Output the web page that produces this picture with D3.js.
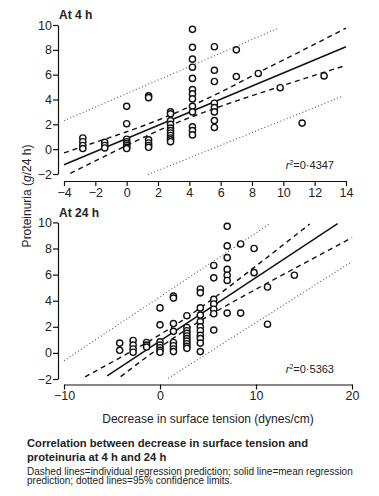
<!DOCTYPE html>
<html>
<head>
<meta charset="utf-8">
<script src="https://cdn.jsdelivr.net/npm/d3@7"></script>
<style>
  body { margin: 0; background: #fff; }
  text { font-family: "Liberation Sans", Arial, sans-serif; fill: #222; }
</style>
</head>
<body>
<div class="chart"></div>
<script>
// data
var xTicks4 = [-4, -2, 0, 2, 4, 6, 8, 10, 12, 14];
var xTicks24 = [-10, 0, 10, 20];
var yTicks = [-2, 0, 2, 4, 6, 8, 10];

// 4 h: x positions and the proteinuria values stacked at each
var x4 = [-2.8, -1.4, 0, 1.4, 2.8, 4.2, 5.6, 7, 8.4, 9.8, 11.2, 12.6];
var y4 = [
  [0.9, 0.6, 0.3, 0.05],
  [0.55, 0.3, 0.1],
  [3.45, 2.05, 0.8, 0.6, 0.45, 0.3, 0.15, 0.05],
  [4.3, 4.15, 0.75, 0.5, 0.3, 0.15],
  [3.0, 2.85, 2.3, 2.0, 1.7, 1.5, 1.3, 1.1, 0.9, 0.75, 0.6],
  [9.65, 8.2, 7.25, 6.6, 5.7, 4.8, 4.45, 4.05, 3.45, 3.0, 1.8, 1.5, 1.15],
  [8.25, 6.35, 5.45, 3.7, 3.35, 3.0, 2.3, 1.75],
  [8.0, 5.85],
  [6.1],
  [4.95],
  [2.1],
  [5.9]
];
var mean4 = [[-4, -1.25], [14, 8.25]];
var upper4 = [[-4, -0.3], [-2, 0.55], [0, 1.4], [2.8, 2.75], [6, 4.6], [9, 6.55], [12, 8.45], [14, 9.75]];
var lower4 = [[-3.6, -1.95], [-2, -0.95], [0, 0.3], [2.8, 1.92], [6, 3.45], [9, 4.72], [12, 5.95], [14, 6.75]];
var upperDot4 = [[-4, 2.3], [9.7, 9.75]];
var lowerDot4 = [[1.35, -2.05], [13.75, 4.25]];

// 24 h
var x24 = [-4.2, -2.8, -1.4, 0, 1.4, 2.8, 4.2, 5.6, 7, 8.4, 9.8, 11.2, 14];
var y24 = [
  [0.75, 0.2],
  [0.95, 0.6, 0.3, 0.05],
  [0.8, 0.6, 0.45],
  [3.45, 2.15, 0.85, 0.6, 0.4, 0.2, 0.05],
  [4.35, 4.2, 2.25, 1.65, 0.8, 0.55, 0.3, 0.1],
  [2.85, 1.95, 1.7, 1.5, 1.3, 1.1, 0.9, 0.7, 0.5, 0.35],
  [4.9, 4.6, 3.45, 2.9, 2.4, 2.0, 1.7, 1.35, 1.1, 0.75, 0.1],
  [6.7, 5.75, 4.1, 3.75, 3.35, 3.0, 1.75],
  [9.7, 8.2, 7.3, 6.4, 5.95, 5.55, 3.05],
  [8.35, 3.05],
  [8.0, 6.15],
  [5.05, 2.2],
  [5.95]
];
var mean24 = [[-5.5, -1.76], [18.5, 9.9]];
var upper24 = [[-7.8, -1.83], [-4, -0.3], [0, 1.4], [2, 2.33], [5, 3.87], [10, 6.66], [15.6, 9.88]];
var lower24 = [[-4.1, -1.82], [0, 0.42], [2, 1.43], [5, 2.81], [10, 4.88], [15, 6.86], [20, 8.83]];
var upperDot24 = [[-10, -0.6], [11.5, 9.93]];
var lowerDot24 = [[0.85, -1.95], [20, 7.0]];

var svgWidth = 379;
var svgHeight = 496;

var svg = d3.select(".chart")
  .append("svg")
  .attr("width", svgWidth)
  .attr("height", svgHeight);

svg.append("rect").attr("width", svgWidth).attr("height", svgHeight).attr("fill", "#fff");

function drawPanel(p) {
  var x = d3.scaleLinear().domain(p.xDomain).range(p.xRange);
  var y = d3.scaleLinear().domain([-2, 10]).range(p.yRange);
  var g = svg.append("g");

  // axes, detached from each other like the original
  g.append("g")
    .attr("transform", `translate(58,0)`)
    .call(d3.axisLeft(y).tickValues(yTicks).tickSize(5).tickSizeOuter(0).tickPadding(1))
    .call(a => a.selectAll("text").style("font-size", "12.5px").attr("fill", "#222"));

  g.append("g")
    .attr("transform", `translate(0,${p.xAxisY})`)
    .call(d3.axisBottom(x).tickValues(p.xTicks).tickSize(5).tickSizeOuter(0).tickPadding(2))
    .call(a => a.selectAll("text").style("font-size", "12.5px").attr("fill", "#222"));

  g.selectAll(".domain, .tick line").attr("stroke", "#111").attr("stroke-width", 1.2);

  var line = d3.line().x(d => x(d[0])).y(d => y(d[1])).curve(d3.curveMonotoneX);

  [p.upperDot, p.lowerDot].forEach(function(d) {
    g.append("path").attr("d", line(d)).attr("fill", "none")
      .attr("stroke", "#555").attr("stroke-width", 1.1).attr("stroke-dasharray", "1,2.4");
  });
  [p.upper, p.lower].forEach(function(d) {
    g.append("path").attr("d", line(d)).attr("fill", "none")
      .attr("stroke", "#111").attr("stroke-width", 1.4).attr("stroke-dasharray", "5,4");
  });
  g.append("path").attr("d", line(p.mean)).attr("fill", "none")
    .attr("stroke", "#111").attr("stroke-width", 1.5);

  var pts = [];
  p.xs.forEach(function(xv, i) {
    p.ys[i].forEach(function(yv) { pts.push({x: xv, y: yv}); });
  });
  g.selectAll("circle")
    .data(pts)
    .enter()
    .append("circle")
    .attr("cx", d => x(d.x))
    .attr("cy", d => y(d.y))
    .attr("r", 3.1)
    .attr("fill", "#fff")
    .attr("stroke", "#111")
    .attr("stroke-width", 1.4);

  g.append("text")
    .attr("x", 59).attr("y", p.titleY)
    .style("font-weight", "bold").style("font-size", "12px")
    .text(p.title);

  var r2 = g.append("text")
    .attr("x", 334).attr("y", p.r2Y)
    .attr("text-anchor", "end")
    .style("font-size", "11px");
  r2.append("tspan").style("font-style", "italic").text("r");
  r2.append("tspan").attr("dy", -4).style("font-size", "7px").text("2");
  r2.append("tspan").attr("dy", 4).text("=" + p.r2);
}

drawPanel({
  xDomain: [-4, 14], xRange: [64, 346], yRange: [174, 25], xAxisY: 181,
  xTicks: xTicks4, xs: x4, ys: y4,
  mean: mean4, upper: upper4, lower: lower4, upperDot: upperDot4, lowerDot: lowerDot4,
  title: "At 4 h", titleY: 19, r2: "0·4347", r2Y: 169
});

drawPanel({
  xDomain: [-10, 20], xRange: [64, 352], yRange: [379, 222.4], xAxisY: 384.5,
  xTicks: xTicks24, xs: x24, ys: y24,
  mean: mean24, upper: upper24, lower: lower24, upperDot: upperDot24, lowerDot: lowerDot24,
  title: "At 24 h", titleY: 217, r2: "0·5363", r2Y: 373
});

// axis titles
var ylab = svg.append("text")
  .attr("transform", "translate(31,196) rotate(-90)")
  .attr("text-anchor", "middle")
  .style("font-size", "12px");
ylab.append("tspan").text("Proteinuria (");
ylab.append("tspan").style("font-style", "italic").text("g");
ylab.append("tspan").text("/24 h)");

svg.append("text")
  .attr("x", 208).attr("y", 423)
  .attr("text-anchor", "middle")
  .style("font-size", "12px")
  .text("Decrease in surface tension (dynes/cm)");

// caption
svg.append("text").attr("x", 27).attr("y", 446.5)
  .style("font-weight", "bold").style("font-size", "11.2px").attr("fill", "#111")
  .text("Correlation between decrease in surface tension and");
svg.append("text").attr("x", 27).attr("y", 461)
  .style("font-weight", "bold").style("font-size", "11.2px").attr("fill", "#111")
  .text("proteinuria at 4 h and 24 h");
svg.append("text").attr("x", 27).attr("y", 474.5)
  .style("font-size", "10px")
  .text("Dashed lines=individual regression prediction; solid line=mean regression");
svg.append("text").attr("x", 27).attr("y", 484)
  .style("font-size", "10px")
  .text("prediction; dotted lines=95% confidence limits.");
</script>
</body>
</html>
